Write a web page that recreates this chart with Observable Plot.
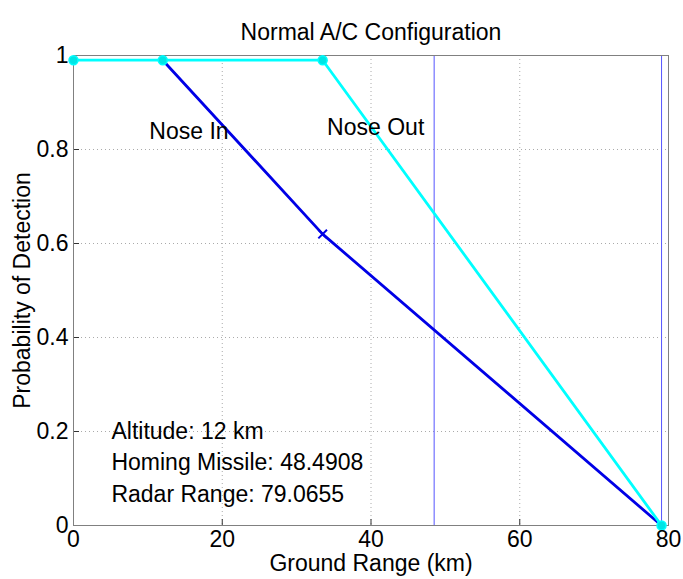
<!DOCTYPE html>
<html>
<head>
<meta charset="utf-8">
<script src="https://cdn.jsdelivr.net/npm/d3@7"></script>
<script src="https://cdn.jsdelivr.net/npm/@observablehq/plot@0.6"></script>
<style>
  html, body { margin: 0; padding: 0; background: #fff; }
  #chart svg { display: block; }
</style>
</head>
<body>
<div id="chart"></div>
<script>
const titleText = "Normal A/C Configuration";
const xLabel = "Ground Range (km)";
const yLabel = "Probability of Detection";

const noseInX = [12, 33.5, 79.0655];
const noseInY = [0.99, 0.62, 0];
const crossX = [33.5];
const crossY = [0.62];

const noseOutX = [0, 12, 33.5, 79.0655];
const noseOutY = [0.99, 0.99, 0.99, 0];

const refLines = [48.4908, 79.0655];

const xTicks = [0, 20, 40, 60, 80];
const yTicks = [0, 0.2, 0.4, 0.6, 0.8, 1];
const gridX = [20, 40, 60];
const gridY = [0.2, 0.4, 0.6, 0.8];

const seriesLabels = ["Nose In", "Nose Out"];
const seriesLabelX = [10.2, 34.1];
const seriesLabelY = [0.837, 0.847];

const infoLines = ["Altitude: 12 km", "Homing Missile: 48.4908", "Radar Range: 79.0655"];
const infoX = [5.1, 5.1, 5.1];
const infoY = [0.2, 0.134, 0.066];

const noseIn = noseInX.map((x, i) => ({x, y: noseInY[i]}));
const noseOut = noseOutX.map((x, i) => ({x, y: noseOutY[i]}));
const cross = crossX.map((x, i) => ({x, y: crossY[i]}));
const sLabels = seriesLabels.map((t, i) => ({t, x: seriesLabelX[i], y: seriesLabelY[i]}));
const info = infoLines.map((t, i) => ({t, x: infoX[i], y: infoY[i]}));

const W = 683, H = 579;
const mL = 73, mR = 15, mT = 55, mB = 54;
const innerH = H - mT - mB;
const innerW = W - mL - mR;
const FS = 23;
const FONT = "'Liberation Sans', Arial, sans-serif";

const chart = Plot.plot({
  width: W,
  height: H,
  marginLeft: mL,
  marginRight: mR,
  marginTop: mT,
  marginBottom: mB,
  style: {fontFamily: FONT, background: "#fff", color: "#000"},
  x: {domain: [0, 80]},
  y: {domain: [0, 1]},
  marks: [
    Plot.ruleX(gridX, {stroke: "#aaa", strokeDasharray: "1,3", strokeWidth: 1}),
    Plot.ruleY(gridY, {stroke: "#aaa", strokeDasharray: "1,3", strokeWidth: 1}),
    Plot.ruleX(xTicks, {stroke: "#333", insetTop: innerH - 6}),
    Plot.ruleY(yTicks, {stroke: "#333", insetRight: innerW - 6}),
    Plot.ruleX(refLines, {stroke: "#5555ff", strokeWidth: 1}),
    Plot.frame({stroke: "#808080"}),
    Plot.line(noseIn, {x: "x", y: "y", stroke: "#0000e6", strokeWidth: 2.8}),
    Plot.dot(cross, {x: "x", y: "y", symbol: "times", r: 4, stroke: "#0000e6", strokeWidth: 2}),
    Plot.line(noseOut, {x: "x", y: "y", stroke: "#00ffff", strokeWidth: 2.8}),
    Plot.dot(noseOut, {x: "x", y: "y", r: 4.5, fill: "#00e5e5", stroke: "#00ffff"}),
    Plot.axisX(xTicks, {tickSize: 0, tickPadding: 5, fontSize: FS, label: null, tickFormat: d => String(d)}),
    Plot.axisY(yTicks, {tickSize: 0, tickPadding: 5, fontSize: FS, label: null, tickFormat: d => String(d)}),
    Plot.text(sLabels, {x: "x", y: "y", text: "t", textAnchor: "start", fontSize: FS, fill: "#000"}),
    Plot.text(info, {x: "x", y: "y", text: "t", textAnchor: "start", fontSize: FS, fill: "#000"}),
    Plot.text([titleText], {frameAnchor: "top", dy: -32, fontSize: FS, fill: "#000"}),
    Plot.text([xLabel], {frameAnchor: "bottom", dy: 45, fontSize: FS, fill: "#000"}),
    Plot.text([yLabel], {frameAnchor: "left", textAnchor: "middle", dx: -51, rotate: -90, fontSize: FS, fill: "#000"})
  ]
});
document.getElementById("chart").appendChild(chart);
</script>
</body>
</html>
